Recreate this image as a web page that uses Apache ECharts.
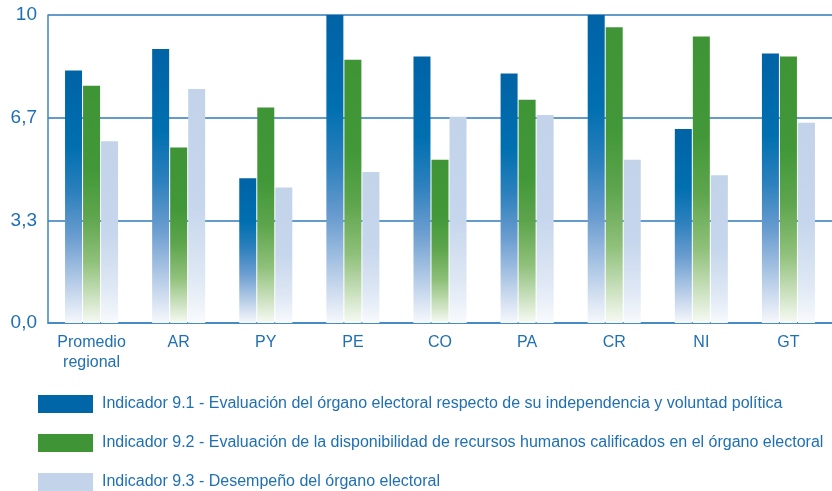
<!DOCTYPE html>
<html><head><meta charset="utf-8">
<script src="https://cdn.jsdelivr.net/npm/echarts@6/dist/echarts.min.js"></script>
<style>html,body{margin:0;padding:0;background:#fff}#c{width:832px;height:491px}</style>
</head><body><div id="c"></div>
<script>
const categories = ['Promedio\nregional','AR','PY','PE','CO','PA','CR','NI','GT'];
const seriesNames = [
  'Indicador 9.1 - Evaluación del órgano electoral respecto de su independencia y voluntad política',
  'Indicador 9.2 - Evaluación de la disponibilidad de recursos humanos calificados en el órgano electoral',
  'Indicador 9.3 - Desempeño del órgano electoral'
];
const ind91 = [8.2, 8.9, 4.7, 10.0, 8.65, 8.1, 10.0, 6.3, 8.75];
const ind92 = [7.7, 5.7, 7.0, 8.55, 5.3, 7.25, 9.6, 9.3, 8.65];
const ind93 = [5.9, 7.6, 4.4, 4.9, 6.7, 6.75, 5.3, 4.8, 6.5];
const yMax = 10;
const yInterval = 10/3;

function grad(stops){
  return new echarts.graphic.LinearGradient(0,0,0,1, stops.map(s=>({offset:s[0], color:s[1]})));
}
const blueGrad = grad([[0,'#0063a6'],[0.3,'#006fb0'],[0.48,'#2c80bd'],[0.66,'#6b9dd0'],[0.87,'#c2d4eb'],[1,'#f6f8fc']]);
const greenGrad = grad([[0,'#3f9436'],[0.35,'#429839'],[0.55,'#5ea54d'],[0.74,'#8fc07a'],[0.9,'#cfe3c4'],[1,'#f7faf4']]);
const lightGrad = grad([[0,'#c2d3ea'],[0.5,'#c6d6ec'],[0.82,'#e0e9f5'],[1,'#f8fafd']]);

const fontSans = '"Liberation Sans", Arial, sans-serif';
const txtColor = '#1f6fb3';

const chart = echarts.init(document.getElementById('c'), null, {renderer:'canvas'});
chart.setOption({
  animation:false,
  grid:{left:48, right:0, top:15, bottom:168},
  legend:{
    orient:'vertical', left:33, top:390, height:120, itemWidth:55, itemHeight:18, itemGap:21,
    icon:'rect',
    textStyle:{color:txtColor, fontFamily:fontSans, fontSize:16, padding:[0,0,0,4]},
    data:[
      {name:seriesNames[0], itemStyle:{color:'#0066a8'}},
      {name:seriesNames[1], itemStyle:{color:'#3f9436'}},
      {name:seriesNames[2], itemStyle:{color:'#c2d3ea'}}
    ]
  },
  xAxis:{
    type:'category', data:categories,
    axisLine:{show:true, lineStyle:{color:'#3f86c2', width:1.5}},
    axisTick:{show:false},
    axisLabel:{interval:0, color:txtColor, fontFamily:fontSans, fontSize:16, margin:10, lineHeight:20}
  },
  yAxis:{
    type:'value', min:0, max:yMax, interval:yInterval,
    axisLine:{show:true, lineStyle:{color:'#3f86c2', width:1.5}},
    axisTick:{show:false},
    splitLine:{lineStyle:{color:'#2f7ab8', width:1.5}},
    axisLabel:{color:txtColor, fontFamily:fontSans, fontSize:19, margin:11, padding:[3,0,0,0],
      formatter:v=> Math.abs(v-10)<1e-6 ? '10' : v.toFixed(1).replace('.',',')}
  },
  series:[
    {name:seriesNames[0], type:'bar', data:ind91, barWidth:17, barGap:'6%', itemStyle:{color:blueGrad}},
    {name:seriesNames[1], type:'bar', data:ind92, barWidth:17, barGap:'6%', itemStyle:{color:greenGrad}},
    {name:seriesNames[2], type:'bar', data:ind93, barWidth:17, barGap:'6%', itemStyle:{color:lightGrad}}
  ]
});
</script></body></html>
